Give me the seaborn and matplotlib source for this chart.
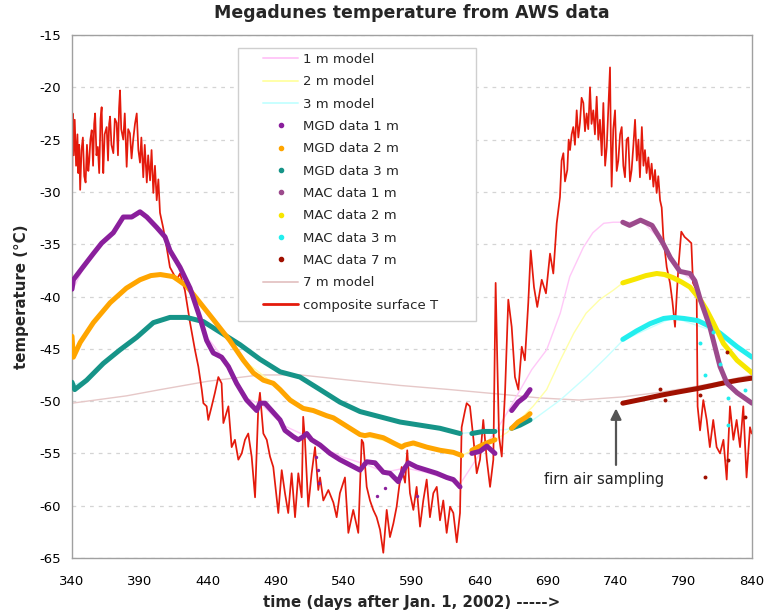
import numpy as np
import pandas as pd
import matplotlib
matplotlib.use("Agg")
import matplotlib.pyplot as plt
from matplotlib.lines import Line2D
from matplotlib.patches import Rectangle
import seaborn as sns

# ---------------- data ----------------
# composite surface temperature
surf_d = [340, 340.5, 341.3, 342, 343, 344, 344.6, 345.3, 346, 347, 348, 349, 350, 351, 352, 352.7, 353.5,
          354.5, 355.5, 356.3, 357, 358, 359, 360, 361, 361.8, 362.5, 363, 364, 365.5, 366.5, 367.3, 368,
          369, 370.4, 371.5, 372.8, 373.8, 374.6, 375.3, 376.2, 377.7, 378.8, 380.2, 381.3, 382.6, 383.8,
          385, 386.3, 387.6, 388.8, 390, 391, 392.4, 393.5, 395, 396, 397.4, 398.5, 399.8, 401, 402.3,
          403.5, 404.7, 407, 409.6, 412, 414.5, 417, 419.4, 423, 426.8, 430.4, 432.9, 435.4, 436.6, 439,
          440.2, 442.7, 445.1, 447.6, 450, 451.3, 455, 457.4, 459.8, 462.3, 464.8, 467.2, 469.6, 472.1,
          474.6, 477, 478.2, 480.7, 483.2, 485.6, 488, 491.7, 494.2, 496.6, 499, 501.5, 504, 506.4, 508.9,
          510, 511.3, 513.7, 516.2, 518.7, 521.1, 522.4, 524.8, 528.5, 532.2, 534.6, 537, 540.7, 543.2,
          546.8, 550.5, 553, 554.2, 556.7, 559.1, 561.5, 564, 566.5, 568.9, 571.4, 573.8, 576.3, 578.7,
          582.4, 584.9, 586.5, 588.5, 591, 593.4, 595.9, 598.3, 600.8, 603.2, 605.7, 608.2, 610.6, 613,
          615.5, 618, 620.4, 622.9, 625.3, 626.5, 629, 630.2, 632.6, 635, 637.6, 640, 642.4, 645, 647.4,
          649.8, 651.5, 652.7, 654, 656, 658.4, 660.8, 663.3, 665.7, 668.2, 670.7, 673, 675.5, 677.3, 679.7,
          682.1, 685.4, 688.5, 691.5, 693.9, 696.4, 698.8, 700, 701.3, 702.5, 704.2, 705.2, 706.2, 707.4,
          708.6, 709.8, 711.1, 712.3, 713.5, 714.7, 716, 717.2, 718.4, 719.6, 720.9, 722, 723.3, 724.5,
          725.8, 727, 728.2, 729.5, 730.7, 732, 733.2, 734.4, 735.6, 736.2, 736.8, 738, 739.3, 740.5,
          741.7, 743, 744.2, 745.4, 746.6, 747.8, 749, 750.3, 751.5, 752.8, 754, 755.3, 756.5, 757.6, 759,
          760.2, 761.3, 762.5, 763.8, 765, 766.2, 767.5, 768.7, 769.9, 771.1, 772.4, 773.6, 774.8, 777.3,
          779.7, 781.5, 783.4, 784.6, 786, 788, 790.4, 793, 795.4, 796.6, 799.3, 800, 801.8, 804.2, 806.7,
          809, 811.5, 814, 816.5, 819, 821.4, 823.8, 826.3, 828.7, 831.2, 833.6, 836, 838.5, 839.8]
surf_T = [-31.9, -22.5, -26.5, -23.1, -27.5, -24.5, -28.2, -25.5, -29.8, -26.0, -24.8, -28.5, -29.1, -25.5,
          -28.0, -27.0, -25.0, -24.1, -27.5, -23.5, -22.5, -26.5, -25.7, -28.2, -23.0, -21.9, -26.0, -28.2,
          -24.5, -23.8, -27.0, -23.5, -22.8, -25.5, -26.3, -23.0, -23.4, -26.5, -22.0, -20.3, -24.0, -25.0,
          -22.5, -27.6, -24.0, -24.4, -26.8, -25.0, -23.5, -22.5, -26.0, -27.2, -24.8, -28.6, -25.5, -29.1,
          -26.5, -28.9, -26.0, -30.1, -27.5, -30.8, -28.8, -32.0, -33.4, -35.3, -37.2, -37.8, -38.4, -37.8,
          -39.4, -42.5, -45.1, -46.7, -48.9, -50.2, -50.5, -51.8, -50.5, -49.2, -47.7, -48.3, -52.1, -50.5,
          -54.4, -53.7, -55.6, -55.0, -53.7, -53.1, -55.3, -59.2, -50.5, -49.2, -53.1, -53.7, -55.3, -56.3,
          -60.7, -56.6, -58.8, -60.7, -56.9, -61.1, -56.9, -59.2, -51.5, -53.7, -60.1, -56.9, -54.4, -58.5,
          -57.3, -59.5, -58.5, -59.7, -61.1, -58.8, -57.3, -62.6, -60.4, -62.6, -53.7, -54.0, -58.2, -59.5,
          -60.4, -61.1, -62.3, -64.5, -60.4, -63.0, -61.7, -60.1, -56.3, -57.8, -54.7, -58.8, -60.4, -58.2,
          -62.0, -59.5, -57.5, -61.1, -58.8, -58.2, -61.4, -59.5, -62.6, -60.1, -60.7, -63.5, -60.7, -52.5,
          -50.9, -50.2, -50.5, -53.4, -56.9, -55.6, -51.8, -55.6, -58.2, -55.6, -38.7, -46.1, -53.4, -55.3,
          -49.2, -40.3, -42.9, -47.7, -48.9, -44.8, -46.1, -40.6, -35.6, -39.1, -41.0, -38.4, -39.7, -35.9,
          -37.8, -33.0, -30.5, -27.0, -26.3, -29.0, -27.9, -25.0, -26.0, -24.5, -23.8, -25.5, -22.2, -24.8,
          -23.4, -21.0, -21.5, -24.2, -22.5, -24.0, -20.0, -23.5, -22.2, -24.5, -20.9, -25.0, -23.1, -26.5,
          -21.5, -27.5, -25.7, -22.0, -18.1, -25.0, -29.5, -24.0, -22.2, -28.0, -27.0, -24.5, -23.8, -27.5,
          -28.6, -25.0, -24.8, -29.0, -27.9, -25.5, -23.1, -27.0, -25.0, -28.6, -23.8, -27.5, -26.0, -28.2,
          -26.7, -28.8, -27.3, -29.5, -27.9, -30.1, -28.5, -30.8, -31.5, -34.3, -37.2, -38.7, -40.5, -42.9,
          -40.0, -37.0, -33.8, -34.3, -34.6, -34.9, -38.7, -39.4, -50.5, -52.8, -49.9, -51.8, -54.4, -51.8,
          -54.4, -55.0, -53.7, -57.5, -50.5, -53.7, -51.8, -54.4, -50.5, -57.3, -52.5, -53.1]

# MGD station data (three separate segments each)
mgd1_d = [340, 341, 348, 355.7, 361.8, 370.4, 377.7, 383.9, 390, 395, 402.3, 408.4, 412, 419.4, 426.8, 434,
          439, 443.9, 450, 455, 461, 468.4, 475.8, 478.2, 481.9, 486.8, 493, 496.6, 502.7, 506.4, 510, 512.6,
          516.2, 522.4, 529.7, 537, 544.4, 551.8, 556.7, 562.8, 568.9, 573.8, 579.9, 583.6, 587.3, 593.4,
          600.8, 608.2, 615.5, 620.4, 625.3,
          634, 640, 645, 651,
          663.3, 668, 673, 676.8]
mgd1_T = [-39.3, -38.4, -37.2, -35.9, -34.9, -33.9, -32.4, -32.4, -31.9, -32.4, -33.4, -34.3, -35.6, -37.2,
          -39.2, -42.0, -44.2, -45.4, -45.8, -46.7, -48.3, -49.9, -50.9, -50.2, -50.2, -50.9, -51.8, -52.8,
          -53.4, -53.7, -53.4, -53.1, -53.7, -54.2, -55.0, -55.6, -56.1, -56.6, -55.8, -55.9, -56.8, -56.9,
          -57.7, -56.6, -55.9, -56.3, -56.6, -56.9, -57.3, -57.5, -58.2,
          -55.0, -54.8, -54.3, -55.0,
          -50.9, -50.1, -49.6, -48.9]
mgd1_seg = [0] * 51 + [1] * 4 + [2] * 4

mgd2_d = [340, 341, 346, 355.7, 368, 380, 390, 398, 405, 414.5, 424.3, 431.7, 443.9, 456, 466, 473.3, 480.7,
          488, 493, 500.3, 510, 517.4, 527.3, 532.2, 542, 551.8, 555.4, 559, 568.9, 576.3, 582.4, 584.9, 591,
          600.8, 610.6, 620.4, 626.5,
          634, 640, 645, 651,
          663.3, 668, 674.3, 676.8]
mgd2_T = [-43.8, -45.8, -44.4, -42.5, -40.6, -39.2, -38.4, -38.0, -37.9, -38.1, -39.0, -40.2, -42.2, -44.2,
          -46.1, -47.3, -48.0, -48.3, -48.9, -49.9, -50.7, -50.9, -51.4, -51.6, -52.4, -53.2, -53.3, -53.2,
          -53.5, -54.0, -54.4, -54.2, -54.0, -54.4, -54.7, -54.9, -55.2,
          -54.7, -54.3, -54.0, -53.7,
          -52.6, -52.0, -51.5, -51.2]
mgd2_seg = [0] * 37 + [1] * 4 + [2] * 4

mgd3_d = [340, 342, 350.8, 363, 375.3, 387.6, 399.8, 412, 424.3, 436.6, 448.8, 463.5, 478.2, 493, 507.6,
          522.4, 537, 551.8, 566.5, 581.2, 595.9, 610.6, 625.3,
          634, 642.4, 651,
          663.3, 669.4, 676.8]
mgd3_T = [-48.2, -48.9, -48.0, -46.4, -45.1, -43.9, -42.5, -42.0, -42.0, -42.4, -43.4, -44.6, -46.0, -47.2,
          -47.7, -48.9, -50.1, -51.0, -51.5, -52.0, -52.3, -52.6, -53.1,
          -53.1, -52.9, -52.9,
          -52.6, -52.3, -51.8]
mgd3_seg = [0] * 23 + [1] * 3 + [2] * 3
mgd1_out_d = [519.6, 521.0, 521.5, 564, 570, 593.4]
mgd1_out_T = [-55.3, -56.6, -57.8, -59.1, -58.3, -59.1]

# MAC station data
mac1_d = [745, 750, 758, 766.5, 774.5, 780, 787, 794.4, 798, 802, 809, 816.5, 821.6, 829, 840]
mac1_T = [-32.9, -33.2, -32.7, -33.2, -34.9, -36.3, -37.6, -37.8, -38.5, -40.3, -42.9, -46.7, -48.3, -49.2, -50.2]
mac2_d = [745, 755, 762, 770, 776, 782, 788, 794.4, 802, 806.7, 811.5, 819, 829, 840]
mac2_T = [-38.7, -38.3, -38.0, -37.8, -37.9, -38.2, -38.6, -39.1, -40.3, -41.3, -42.5, -44.5, -46.1, -47.3]
mac3_d = [745, 755, 765, 775, 782, 790, 800, 808, 816.5, 829, 840]
mac3_T = [-44.1, -43.3, -42.6, -42.1, -42.0, -42.1, -42.3, -42.8, -43.5, -44.8, -45.8]
mac7_d = [745, 760, 774.5, 787, 800, 811, 821.6, 830, 840]
mac7_T = [-50.2, -49.8, -49.4, -49.1, -48.8, -48.5, -48.2, -48.0, -47.8]
mac3_out_d = [802, 805.4, 811.5, 816.5, 822, 822, 835]
mac3_out_T = [-44.4, -47.5, -43.4, -46.5, -49.7, -52.3, -48.9]
mac7_out_d = [772.4, 776, 801.8, 805.4, 821.4, 822, 835]
mac7_out_T = [-48.8, -49.9, -49.4, -57.3, -45.3, -55.6, -51.5]

# model curves
m1_d = [340, 348, 362, 378, 390, 402, 412, 427, 440, 455, 468, 480, 495, 510, 525, 540, 555, 570, 585, 600,
        615, 625, 635, 645, 652, 660, 678, 689, 699, 706, 716, 723, 731, 738, 745, 760, 775, 787, 798, 809,
        821, 840]
m1_T = [-39.5, -37.4, -34.9, -32.6, -32.1, -33.3, -35.4, -39.0, -44.0, -46.5, -49.7, -50.4, -52.3, -53.2,
        -54.5, -55.4, -56.0, -56.8, -56.4, -56.8, -57.4, -58.0, -56.0, -54.0, -52.8, -51.1, -47.0, -45.1,
        -41.6, -38.1, -35.3, -33.9, -33.0, -32.9, -32.9, -32.9, -34.9, -37.6, -38.6, -42.9, -48.3, -50.2]
m2_d = [340, 356, 368, 380, 398, 408, 424, 444, 466, 488, 510, 527, 552, 576, 600, 627, 640, 651, 660, 679,
        689, 699, 709, 718, 728, 738, 745, 770, 794, 811, 829, 840]
m2_T = [-45.5, -42.5, -40.6, -39.2, -38.0, -37.9, -39.0, -42.2, -46.1, -48.3, -50.7, -51.4, -53.2, -54.0,
        -54.4, -55.2, -54.3, -53.7, -53.0, -50.5, -48.9, -46.1, -43.5, -41.6, -40.3, -39.4, -38.7, -37.8,
        -39.1, -42.5, -46.1, -47.3]
m3_d = [340, 351, 363, 376, 388, 400, 412, 424, 437, 449, 464, 478, 493, 508, 522, 537, 552, 567, 581, 596,
        611, 625, 642, 660, 679, 699, 718, 733, 745, 782, 816.5, 840]
m3_T = [-48.5, -48.0, -46.4, -45.1, -43.9, -42.5, -42.0, -42.0, -42.4, -43.4, -44.6, -46.0, -47.2, -47.7,
        -48.9, -50.1, -51.0, -51.5, -52.0, -52.3, -52.6, -53.1, -52.9, -52.7, -51.8, -49.9, -47.7, -45.8,
        -44.2, -42.0, -43.5, -45.8]
m7_d = [340, 380, 405, 440, 478, 508, 544, 581, 618, 660, 684, 713, 745, 770, 790, 811, 840]
m7_T = [-50.2, -49.5, -48.9, -48.1, -47.5, -47.5, -48.0, -48.5, -48.9, -49.4, -49.7, -49.9, -49.6, -49.2,
        -48.8, -48.3, -47.5]

labels = ["1 m model", "2 m model", "3 m model", "MGD data 1 m", "MGD data 2 m", "MGD data 3 m",
          "MAC data 1 m", "MAC data 2 m", "MAC data 3 m", "MAC data 7 m", "7 m model", "composite surface T"]
colors = ["#ffc8f8", "#ffffa8", "#c8ffff", "#8a1f9c", "#ffa500", "#169488",
          "#9c4a8c", "#f7e600", "#22eeee", "#a01000", "#e6c8c8", "#e41a0c"]

# ---------------- figure ----------------
plt.rcParams["axes.unicode_minus"] = False
sns.set_style("white")
plt.rcParams["font.family"] = ["DejaVu Sans"]

fig = plt.figure(figsize=(7.69, 6.16), dpi=100)
ax = fig.add_axes([72 / 769, 1 - 558 / 616, 680 / 769, 523 / 616])


def draw(d, T, color, lw, seg=None, z=2):
    if seg is None:
        seg = [0] * len(d)
    df = pd.DataFrame({"d": d, "T": T, "seg": seg})
    sns.lineplot(data=df, x="d", y="T", units="seg", estimator=None, sort=False, color=color,
                 linewidth=lw, ax=ax, legend=False, zorder=z, solid_capstyle="round",
                 solid_joinstyle="round")


draw(m7_d, m7_T, colors[10], 1.0, z=2)
draw(m1_d, m1_T, colors[0], 1.0, z=2)
draw(m2_d, m2_T, colors[1], 1.0, z=2)
draw(m3_d, m3_T, colors[2], 1.0, z=2)
draw(mgd3_d, mgd3_T, colors[5], 3.6, mgd3_seg, z=3)
draw(mgd2_d, mgd2_T, colors[4], 3.6, mgd2_seg, z=3)
draw(mgd1_d, mgd1_T, colors[3], 3.6, mgd1_seg, z=3)
draw(mac7_d, mac7_T, colors[9], 3.6, z=3)
draw(mac3_d, mac3_T, colors[8], 3.6, z=3)
draw(mac2_d, mac2_T, colors[7], 3.6, z=3)
draw(mac1_d, mac1_T, colors[6], 3.6, z=3)
sns.scatterplot(x=mgd1_out_d, y=mgd1_out_T, color=colors[3], s=6, linewidth=0, ax=ax, zorder=3)
sns.scatterplot(x=mac3_out_d, y=mac3_out_T, color=colors[8], s=8, linewidth=0, ax=ax, zorder=3)
sns.scatterplot(x=mac7_out_d, y=mac7_out_T, color=colors[9], s=8, linewidth=0, ax=ax, zorder=3)
draw(surf_d, surf_T, colors[11], 1.25, z=2.5)

ax.set_xlim(340, 840)
ax.set_ylim(-65, -15)
ax.set_xticks(np.arange(340, 841, 50))
ax.set_xticks(np.arange(340, 841, 10), minor=True)
ax.set_yticks(np.arange(-65, -14, 5))
ax.tick_params(axis="both", which="both", labelsize=9.5, colors="#333333", direction="out")
ax.tick_params(axis="x", which="major", length=4, width=0.8, color="#999999", pad=8)
ax.tick_params(axis="x", which="minor", length=3, width=0.8, color="#999999")
ax.tick_params(axis="y", length=0, pad=8)
for lab in ax.get_xticklabels() + ax.get_yticklabels():
    lab.set_color("black")
ax.yaxis.grid(True, color="#d4d4d4", linestyle=(0, (3, 4)), linewidth=0.9)
ax.xaxis.grid(False)
for s in ax.spines.values():
    s.set_color("#a0a0a0")
    s.set_linewidth(1.0)

ax.set_title("Megadunes temperature from AWS data", fontsize=12.5, fontweight="bold", pad=12)
ax.set_xlabel("time (days after Jan. 1, 2002) ----->", fontsize=10.8, fontweight="bold", labelpad=5)
ax.set_ylabel("temperature (°C)", fontsize=10.8, fontweight="bold", labelpad=7)

# annotation
ax.annotate("", xy=(740, -50.7), xytext=(740, -56.1),
            arrowprops=dict(arrowstyle="-|>", color="#555555", lw=1.6, mutation_scale=16,
                            shrinkA=0, shrinkB=0), zorder=6)
ax.text(731, -57.5, "firn air sampling", ha="center", va="center", fontsize=10.5, color="#222222", zorder=6)

# legend box + legend
ax.add_patch(Rectangle((0.244, 0.453), 0.35, 0.522, transform=ax.transAxes, facecolor="white",
                       edgecolor="#cfcfcf", linewidth=1.0, zorder=4))
handles = []
for i, (lab, c) in enumerate(zip(labels, colors)):
    if 3 <= i <= 9:
        handles.append(Line2D([], [], color=c, marker="o", markersize=3, linestyle="none"))
    elif i == 11:
        handles.append(Line2D([], [], color=c, linewidth=2.0))
    else:
        handles.append(Line2D([], [], color=c, linewidth=1.4))
leg = ax.legend(handles, labels, loc="upper left", bbox_to_anchor=(0.281, 0.966), frameon=False,
                borderpad=0, borderaxespad=0, handlelength=2.65, handletextpad=0.4, labelspacing=0.71,
                fontsize=9.5)
leg.set_zorder(5)

fig.savefig("out.png", dpi=100)
